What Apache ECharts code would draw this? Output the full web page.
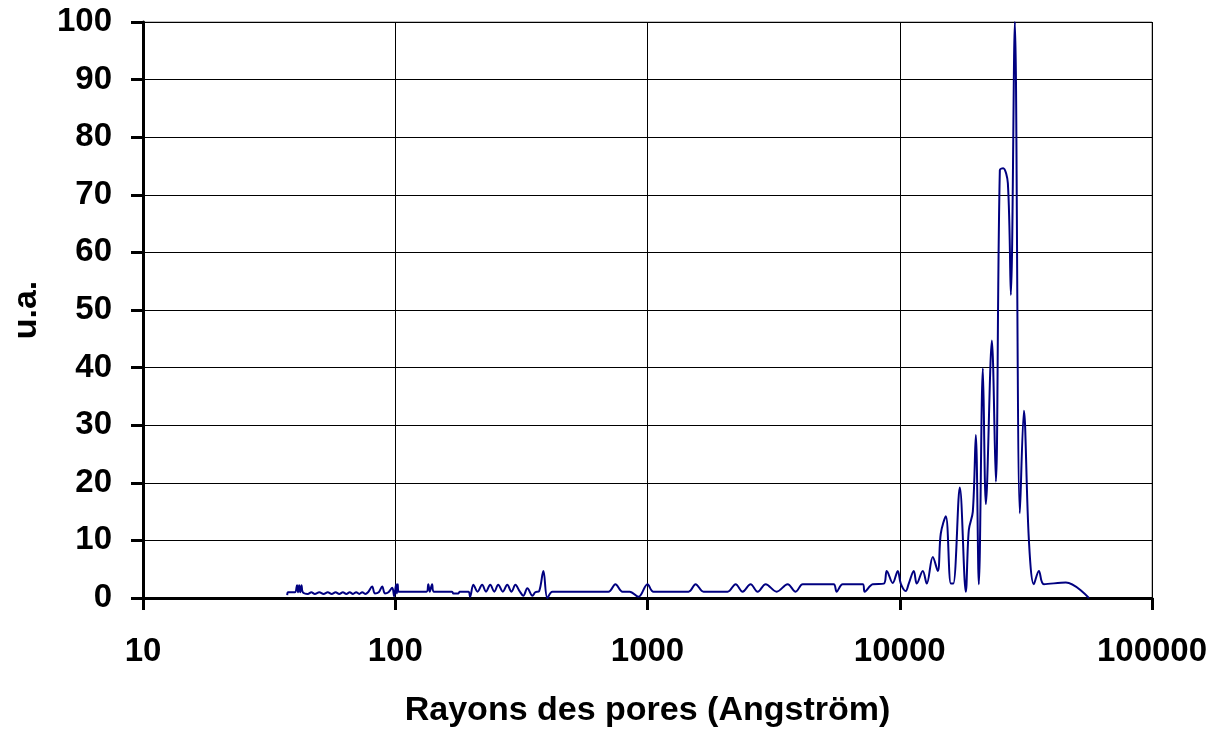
<!DOCTYPE html>
<html>
<head>
<meta charset="utf-8">
<title>Rayons des pores</title>
<script src="https://cdn.jsdelivr.net/npm/echarts@6/dist/echarts.min.js"></script>
<style>
    html, body { margin: 0; padding: 0; background: #fff; }
    #chart { width: 1218px; height: 729px; }
</style>
</head>
<body>
<div id="chart"></div>
<script>
    // rayons (Angström) et intensité (u.a.)
    var radii = [
        37.3, 37.6, 40.0, 40.8, 41.2, 41.6, 42.0, 42.5, 43.0,
        45, 46.5, 48, 50, 52, 54, 56, 58, 60, 62, 64, 66, 68, 70, 72, 74, 76, 78,
        81, 83, 86, 88.8, 91, 94, 97.3, 99, 100.8, 101.5, 102.3, 103,
        133, 135.2, 137, 140, 142, 168, 170, 178, 180,
        195, 198, 204, 212, 221, 229, 238, 247, 256, 267, 278, 289, 299.5, 311, 322, 334, 350, 359, 372, 386.7, 401, 420,
        700, 746, 796, 850, 921, 1000, 1056, 1455, 1551, 1668,
        2078, 2235, 2383, 2563, 2733, 2940, 3251, 3594, 3867, 4123, 4436, 4728, 5472, 5623, 5940, 7133, 7262, 7815,
        8642, 8880, 9380, 9820, 10093, 10564, 10857, 11366, 11682, 12340, 12800, 13520, 14150, 14545, 15224, 15943, 16300,
        17302, 18276, 18784, 19485, 20026, 20584, 21354, 21950, 23185, 24043, 24937, 25700, 26827, 27570, 28596,
        29939, 31054, 32510, 34020, 35619, 37275, 45560, 56234
    ];
    var intensity = [
        0.5, 1.0, 1.0, 2.2, 1.0, 2.2, 1.0, 2.2, 1.0,
        0.7, 1.0, 0.7, 1.0, 0.7, 1.0, 0.7, 1.0, 0.7, 1.0, 0.7, 1.0, 0.7, 1.0, 0.7, 1.0, 0.7, 1.0,
        2.0, 0.8, 1.0, 2.0, 0.8, 1.0, 1.8, 0.3, 2.4, 0.8, 2.4, 1.1,
        1.1, 2.4, 1.1, 2.4, 1.1, 1.1, 0.8, 0.8, 1.1,
        1.1, 0.2, 2.3, 1.1, 2.3, 1.1, 2.3, 1.1, 2.3, 1.1, 2.3, 1.1, 2.3, 1.2, 0.4, 1.7, 0.4, 1.0, 1.2, 4.7, 0.0, 1.1,
        1.1, 2.4, 1.1, 1.1, 0.2, 2.4, 1.1, 1.1, 2.4, 1.1,
        1.1, 2.4, 1.1, 2.4, 1.1, 2.4, 1.1, 2.4, 1.1, 2.4, 2.4, 2.4, 2.4, 1.1, 2.4, 2.4, 1.1, 2.4,
        2.5, 4.7, 2.6, 4.7, 2.5, 1.2, 2.5, 4.7, 2.5, 4.7, 2.5, 7.1, 4.7, 11.2, 14.2, 2.5, 2.5,
        19.2, 1.1, 11.8, 15.0, 28.3, 2.4, 39.9, 16.3, 44.7, 20.2, 74.3, 74.6, 72.0, 52.6, 100,
        14.7, 32.5, 10.0, 2.4, 4.7, 2.4, 2.7, 0.0
    ];
    var xTickLabels = ['10', '100', '1000', '10000', '100000'];
    var yTicks = [0, 10, 20, 30, 40, 50, 60, 70, 80, 90, 100];

    var points = radii.map(function (r, i) { return [r, intensity[i]]; });

    var fontFamily = '"Liberation Sans", Arial, sans-serif';
    var tickFont = { fontFamily: fontFamily, fontWeight: 'bold', fontSize: 33, color: '#000' };
    var titleFont = { fontFamily: fontFamily, fontWeight: 'bold', fontSize: 34, color: '#000' };

    var myChart = echarts.init(document.getElementById('chart'));
    myChart.setOption({
        animation: false,
        backgroundColor: '#fff',
        grid: {
            left: 143,
            right: 66,
            top: 22,
            bottom: 131,
            outerBoundsMode: 'none',
            containLabel: false,
            show: true,
            borderColor: '#808080',
            borderWidth: 1
        },
        xAxis: {
            type: 'log',
            logBase: 10,
            min: 10,
            max: 100000,
            name: 'Rayons des pores (Angström)',
            nameLocation: 'middle',
            nameGap: 96,
            nameTextStyle: titleFont,
            axisLine: { lineStyle: { color: '#000', width: 3 } },
            axisTick: { show: true, inside: false, length: 12, lineStyle: { color: '#000', width: 3 } },
            axisLabel: Object.assign({
                margin: 37,
                formatter: function (v) {
                    var k = Math.round(Math.log10(v)) - 1;
                    return xTickLabels[k] || '';
                }
            }, tickFont),
            splitLine: { show: true, lineStyle: { color: '#000', width: 1 } },
            minorTick: { show: false },
            minorSplitLine: { show: false }
        },
        yAxis: {
            type: 'value',
            min: yTicks[0],
            max: yTicks[yTicks.length - 1],
            interval: 10,
            name: 'u.a.',
            nameLocation: 'middle',
            nameGap: 99,
            nameRotate: 90,
            nameTextStyle: titleFont,
            axisLine: { show: true, lineStyle: { color: '#000', width: 3 } },
            axisTick: { show: true, inside: false, length: 12, lineStyle: { color: '#000', width: 3 } },
            axisLabel: Object.assign({ margin: 31 }, tickFont),
            splitLine: { show: true, lineStyle: { color: '#000', width: 1 } }
        },
        series: [
            {
                type: 'line',
                data: points,
                smooth: 0.35,
                showSymbol: false,
                clip: true,
                lineStyle: { color: '#000080', width: 2 },
                itemStyle: { color: '#000080' }
            }
        ]
    });
</script>
</body>
</html>
